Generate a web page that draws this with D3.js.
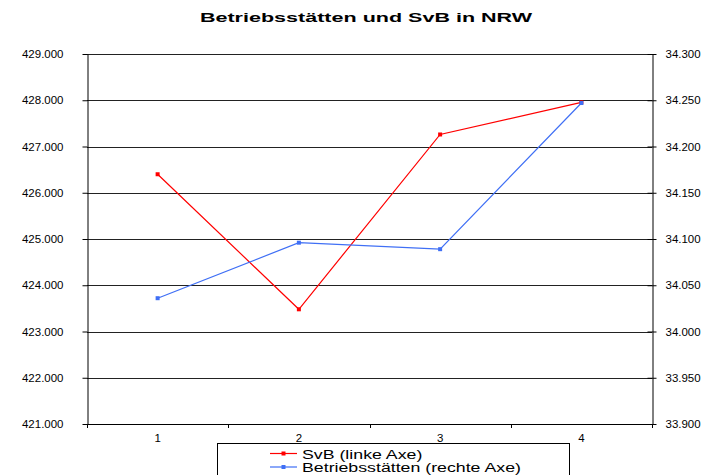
<!DOCTYPE html>
<html><head><meta charset="utf-8">
<script src="https://cdn.jsdelivr.net/npm/d3@7"></script>
<style>body{margin:0;background:#fff}svg{display:block;font-family:"Liberation Sans",Arial,sans-serif}</style>
</head><body><svg id="c" width="715" height="475"></svg>
<script>
const categories = ["1", "2", "3", "4"];
const svbValues = [426400, 423480, 427260, 427955];
const betriebValues = [34036, 34096, 34089, 34247];
const leftTicks = [421000, 422000, 423000, 424000, 425000, 426000, 427000, 428000, 429000];
const rightTicks = [33900, 33950, 34000, 34050, 34100, 34150, 34200, 34250, 34300];
const seriesNames = ["SvB (linke Axe)", "Betriebsstätten (rechte Axe)"];
const title = "Betriebsstätten und SvB in NRW";

const svg = d3.select("#c");
const L = 87, R = 652, T = 54, B = 424;
const fmt = d3.formatLocale({decimal: ",", thousands: ".", grouping: [3], currency: ["", "€"]}).format(",.0f");

const x = d3.scaleBand().domain(categories).range([L, R]);
const yL = d3.scaleLinear().domain([421000, 429000]).range([B, T]);
const yR = d3.scaleLinear().domain([33900, 34300]).range([B, T]);
const cx = d => x(d) + x.bandwidth() / 2;

// title
svg.append("text").attr("transform", "translate(366,22) scale(1.62,1)")
  .attr("text-anchor", "middle").attr("font-size", 13.3).attr("font-weight", "bold").text(title);

// gridlines
svg.append("g").selectAll("line").data(leftTicks).join("line")
  .attr("x1", L).attr("x2", R).attr("y1", d => Math.round(yL(d)) + 0.5).attr("y2", d => Math.round(yL(d)) + 0.5)
  .attr("stroke", "#222").attr("stroke-width", 1);

// left axis
const gl = svg.append("g").attr("transform", `translate(${L + 0.5},0)`)
  .call(d3.axisLeft(yL).tickValues(leftTicks).tickFormat(fmt).tickSize(5).tickSizeOuter(0));
gl.select(".domain").attr("stroke", "#000");
gl.selectAll(".tick line").attr("stroke", "#000");
gl.selectAll(".tick text").remove();
gl.selectAll(".tick").append("text").attr("transform", "translate(-24,3.5) scale(1.15,1)")
  .attr("text-anchor", "end").attr("font-size", 10).attr("fill", "#000").text(d => fmt(d));

// right axis
const gr = svg.append("g").attr("transform", `translate(${R + 0.5},0)`)
  .call(d3.axisRight(yR).tickValues(rightTicks).tickFormat(fmt).tickSizeInner(4).tickSizeOuter(0));
gr.select(".domain").attr("stroke", "#000");
gr.selectAll(".tick line").attr("stroke", "#000").attr("x1", -5);
gr.selectAll(".tick text").remove();
gr.selectAll(".tick").append("text").attr("transform", "translate(13,3.5) scale(1.15,1)")
  .attr("text-anchor", "start").attr("font-size", 10).attr("fill", "#000").text(d => fmt(d));

// bottom axis
const bounds = categories.map(c => x(c)).concat([x(categories[categories.length - 1]) + x.bandwidth()]);
const gb = svg.append("g");
gb.append("line").attr("x1", L).attr("x2", R).attr("y1", B + 0.5).attr("y2", B + 0.5).attr("stroke", "#000");
gb.selectAll("line.t").data(bounds).join("line").attr("class", "t")
  .attr("x1", d => Math.round(d) + 0.5).attr("x2", d => Math.round(d) + 0.5)
  .attr("y1", B).attr("y2", B + 4).attr("stroke", "#000");
gb.selectAll("text").data(categories).join("text")
  .attr("transform", d => `translate(${cx(d)},442) scale(1.15,1)`)
  .attr("text-anchor", "middle").attr("font-size", 10).text(d => d);

// series
const series = [
  {vals: svbValues, y: yL, color: "#ff0000"},
  {vals: betriebValues, y: yR, color: "#3f6ff5"}
];
series.forEach(s => {
  const line = d3.line().x((d, i) => cx(categories[i])).y(d => s.y(d));
  svg.append("path").datum(s.vals).attr("d", line).attr("fill", "none")
    .attr("stroke", s.color).attr("stroke-width", 1.2);
  svg.append("g").selectAll("rect").data(s.vals).join("rect")
    .attr("x", (d, i) => cx(categories[i]) - 2).attr("y", d => s.y(d) - 2)
    .attr("width", 4).attr("height", 4).attr("fill", s.color);
});

// legend
const lg = svg.append("g");
lg.append("rect").attr("x", 217.5).attr("y", 443.5).attr("width", 352).attr("height", 40)
  .attr("fill", "#fff").attr("stroke", "#000");
series.forEach((s, i) => {
  const yy = 453.5 + i * 13.5;
  lg.append("line").attr("x1", 270).attr("x2", 297).attr("y1", yy).attr("y2", yy).attr("stroke", s.color).attr("stroke-width", 1.2);
  lg.append("rect").attr("x", 281.5).attr("y", yy - 2).attr("width", 4).attr("height", 4).attr("fill", s.color);
  lg.append("text").attr("transform", `translate(302,${yy + 5}) scale(1.42,1)`)
    .attr("font-size", 12.5).text(seriesNames[i]);
});
</script></body></html>
